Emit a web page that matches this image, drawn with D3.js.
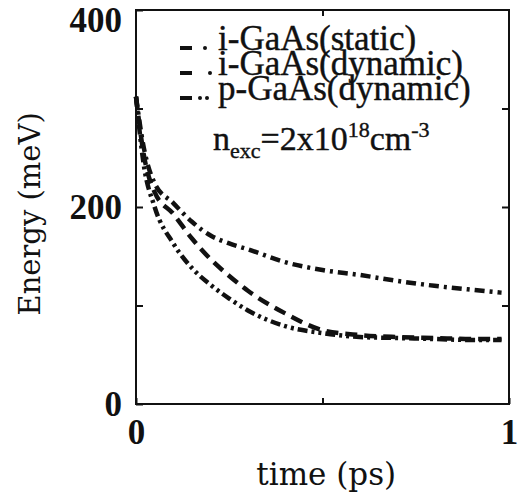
<!DOCTYPE html>
<html>
<head>
<meta charset="utf-8">
<script src="https://cdn.jsdelivr.net/npm/d3@7"></script>
<style>
  body { margin: 0; background: #fff; }
  svg { display: block; }
  .tick line { stroke: #111; stroke-width: 2; }
  .domain { display: none; }
</style>
</head>
<body>
<div id="chart"></div>
<script>
// time axis (ps)
var times = [0, 0.02, 0.05, 0.1, 0.15, 0.2, 0.25, 0.3, 0.4, 0.5, 0.6, 0.7, 0.8, 0.9, 0.98];
// energy (meV) per curve
var iStatic  = [312, 262, 224, 204, 185, 171, 163, 157, 144, 136, 131, 125, 120, 116, 113];
var iDynamic = [312, 255, 215, 193, 168, 147, 130, 115, 92, 75, 70, 68, 67, 66, 66];
var pDynamic = [312, 245, 200, 163, 138, 121, 107, 95, 79, 72, 68, 67, 66, 65, 65];
var seriesNames = ["i-GaAs(static)", "i-GaAs(dynamic)", "p-GaAs(dynamic)"];
var yTicks = [0, 100, 200, 300, 400];
var yLabels = {0: "0", 200: "200", 400: "400"};
var xTicks = [0, 0.5, 1];
var xLabels = {0: "0", 1: "1"};

var W = 520, H = 499;
var m = {left: 136, top: 10, right: 11, bottom: 95};

var svg = d3.select("#chart").append("svg")
  .attr("width", W).attr("height", H);

var x = d3.scaleLinear().domain([0, 1]).range([m.left, W - m.right]);
var y = d3.scaleLinear().domain([0, 400]).range([H - m.bottom, m.top]);

function tickFont(sel) {
  sel.style("font-family", "Liberation Serif").style("font-weight", "bold")
    .style("font-size", "35px").attr("fill", "#111");
}

// axes, ticks pointing inward
var yAx = svg.append("g")
  .attr("transform", "translate(" + m.left + ",0)")
  .call(d3.axisLeft(y).tickValues(yTicks).tickSize(-7).tickPadding(14)
    .tickFormat(function(d) { return yLabels[d] || ""; }));
yAx.selectAll("text").call(tickFont);
// keep the top label inside the picture
yAx.selectAll(".tick").filter(function(d) { return d === 400; })
  .select("text").attr("y", 10);

svg.append("g")
  .attr("transform", "translate(" + (W - m.right) + ",0)")
  .call(d3.axisRight(y).tickValues([100, 200, 300]).tickSize(-7).tickFormat(""));

svg.append("g")
  .attr("transform", "translate(0," + (H - m.bottom) + ")")
  .call(d3.axisBottom(x).tickValues(xTicks).tickSize(-6).tickPadding(15)
    .tickFormat(function(d) { return xLabels[d] || ""; }))
  .selectAll("text").call(tickFont);

svg.append("g")
  .attr("transform", "translate(0," + m.top + ")")
  .call(d3.axisTop(x).tickValues([0.5]).tickSize(-6).tickFormat(""));

// frame
svg.append("rect")
  .attr("x", x(0)).attr("y", y(400))
  .attr("width", x(1) - x(0)).attr("height", y(0) - y(400))
  .attr("fill", "none").attr("stroke", "#111").attr("stroke-width", 2);

// axis titles
svg.append("text")
  .attr("transform", "translate(40," + y(193) + ") rotate(-90)")
  .attr("text-anchor", "middle")
  .style("font-family", "DejaVu Serif").style("font-size", "29px")
  .attr("fill", "#111")
  .text("Energy (meV)");

svg.append("text")
  .attr("x", x(0.51)).attr("y", 485)
  .attr("text-anchor", "middle")
  .style("font-family", "DejaVu Serif").style("font-size", "31px")
  .attr("fill", "#111")
  .text("time (ps)");

// curves
var dashes = ["10,5,3,5", "12,7", "10,4,3,4,3,4"];
var allSeries = [iStatic, iDynamic, pDynamic];
var line = d3.line()
  .x(function(d, i) { return x(times[i]); })
  .y(function(d) { return y(d); })
  .curve(d3.curveMonotoneX);

svg.selectAll(".curve").data(allSeries).enter()
  .append("path")
  .attr("class", "curve")
  .attr("d", line)
  .attr("fill", "none")
  .attr("stroke", "#111")
  .attr("stroke-width", 4.5)
  .attr("stroke-dasharray", function(d, i) { return dashes[i]; });

// legend
var dotOffsets = [[25], [30], [20, 27]];
var leg = svg.append("g").attr("transform", "translate(180,50)");
var rows = leg.selectAll("g").data(seriesNames).enter()
  .append("g").attr("transform", function(d, i) { return "translate(0," + i * 25 + ")"; });
rows.append("rect")
  .attr("x", 0).attr("y", -4).attr("width", 12).attr("height", 4)
  .attr("fill", "#111");
rows.each(function(d, i) {
  d3.select(this).selectAll("circle").data(dotOffsets[i]).enter()
    .append("circle").attr("cx", function(o) { return o; }).attr("cy", -2)
    .attr("r", 2).attr("fill", "#111");
});
rows.append("text")
  .attr("x", 38)
  .style("font-family", "Liberation Serif").style("font-size", "35px")
  .attr("fill", "#111").attr("stroke", "#111").attr("stroke-width", 0.4)
  .text(function(d) { return d; });

var note = svg.append("text")
  .attr("x", 213).attr("y", 150)
  .style("font-family", "Liberation Serif").style("font-size", "34px")
  .attr("fill", "#111").attr("stroke", "#111").attr("stroke-width", 0.4);
note.append("tspan").text("n");
note.append("tspan").attr("dy", 8).style("font-size", "22px").text("exc");
note.append("tspan").attr("dy", -8).text("=2x10");
note.append("tspan").attr("dy", -13).style("font-size", "22px").text("18");
note.append("tspan").attr("dy", 13).text("cm");
note.append("tspan").attr("dy", -13).style("font-size", "22px").text("-3");
</script>
</body>
</html>
